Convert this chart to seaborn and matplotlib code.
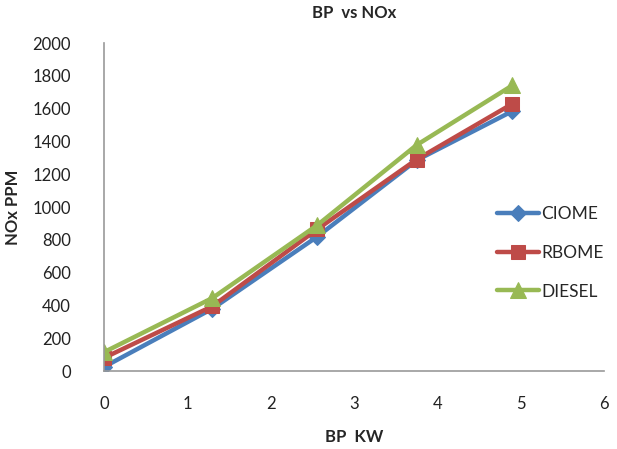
import matplotlib
matplotlib.use("Agg")
import matplotlib.pyplot as plt
import seaborn as sns
import pandas as pd

bp_kw = [0, 1.3, 2.56, 3.75, 4.9]
ciome = [25, 380, 820, 1285, 1585]
rbome = [80, 395, 865, 1290, 1630]
diesel = [115, 445, 890, 1378, 1742]
series_names = ["CIOME", "RBOME", "DIESEL"]

sns.set_theme(style="white")
plt.rcParams['font.family'] = ['Lato', 'DejaVu Sans']

df = pd.DataFrame({
    "BP": bp_kw * 3,
    "NOx": ciome + rbome + diesel,
    "Fuel": [n for n in series_names for _ in bp_kw],
})

colors = {"CIOME": "#4A7EBB", "RBOME": "#BE4B48", "DIESEL": "#98B954"}
markers = {"CIOME": "D", "RBOME": "s", "DIESEL": "^"}
msize = {"CIOME": 8, "RBOME": 10, "DIESEL": 11}

fig = plt.figure(figsize=(6.17, 4.49), dpi=100)
ax = fig.add_axes([0.1686, 0.1737, 0.8104, 0.7303])

for name in series_names:
    sub = df[df["Fuel"] == name]
    sns.lineplot(data=sub, x="BP", y="NOx", ax=ax, color=colors[name],
                 marker=markers[name], markersize=msize[name], linewidth=3.2,
                 markeredgecolor=colors[name], label=name)

ax.set_xlim(0, 6)
ax.set_ylim(0, 2000)
ax.set_xticks(range(0, 7))
ax.set_yticks(range(0, 2001, 200))
ax.tick_params(axis='x', labelsize=12, length=0, pad=18, colors='#222222')
ax.tick_params(axis='y', labelsize=12, length=0, pad=24, colors='#222222')
for s in ["top", "right"]:
    ax.spines[s].set_visible(False)
for s in ["left", "bottom"]:
    ax.spines[s].set_color("#999999")
    ax.spines[s].set_linewidth(1.2)

ax.set_xlabel("BP  KW", fontsize=12, fontweight='bold', labelpad=12)
ax.set_ylabel("NOx PPM", fontsize=12, fontweight='bold', labelpad=8)
ax.set_title("BP  vs NOx", fontsize=12, fontweight='bold', pad=18)

leg = ax.legend(loc='center left', bbox_to_anchor=(0.772, 0.36), frameon=False,
                fontsize=12.5, handlelength=2.4, labelspacing=1.3, handletextpad=0.15,
                borderaxespad=0)

fig.savefig("out.png", dpi=100)
